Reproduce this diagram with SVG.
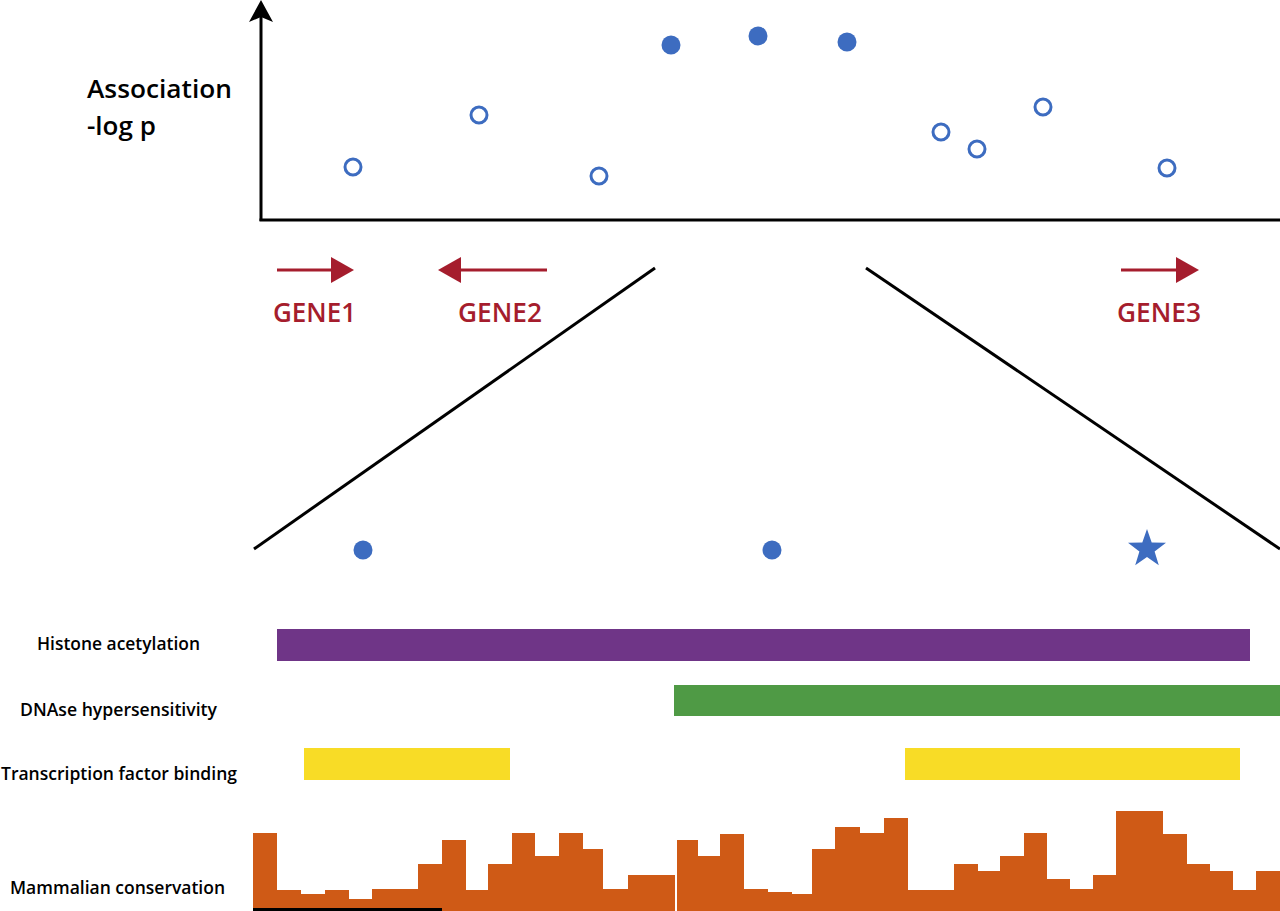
<svg xmlns="http://www.w3.org/2000/svg" width="1280" height="911" viewBox="0 0 1280 911">
<style>
.ax{stroke:#000;stroke-width:3;fill:none}
.oc{fill:none;stroke:#3d6cc0;stroke-width:3}
.fc{fill:#3d6cc0}
.gene{fill:#a51d2d;font-family:"Open Sans","Liberation Sans",sans-serif;font-size:27px;font-weight:600}
.garr{stroke:#a51d2d;stroke-width:3;fill:none}
.ghead{fill:#a51d2d}
.lab{fill:#000;font-family:"Open Sans","Liberation Sans",sans-serif;font-size:18px;font-weight:600}
.ylab{fill:#000;font-family:"Open Sans","Liberation Sans",sans-serif;font-size:26px;font-weight:600}
.cons{fill:#cf5a16}
</style>
<rect width="1280" height="911" fill="#fff"/>
<g id="axes">
<line class="ax" x1="261" y1="15" x2="261" y2="221"/>
<line class="ax" x1="259.5" y1="220" x2="1280" y2="220"/>
<path d="M261 0 L273 22 L261 17 L249 22 Z" fill="#000"/>
</g>
<g id="ylabel">
<text class="ylab" x="87" y="98" textLength="145" lengthAdjust="spacingAndGlyphs">Association</text>
<text class="ylab" x="87" y="135">-log p</text>
</g>
<g id="points">
<circle class="oc" cx="353" cy="167" r="8"/>
<circle class="oc" cx="479" cy="115" r="8"/>
<circle class="oc" cx="599" cy="176" r="8"/>
<circle class="oc" cx="941" cy="132" r="8"/>
<circle class="oc" cx="977" cy="149" r="8"/>
<circle class="oc" cx="1043" cy="107" r="8"/>
<circle class="oc" cx="1167" cy="168" r="8"/>
<circle class="fc" cx="671" cy="45" r="9.5"/>
<circle class="fc" cx="758" cy="36" r="9.5"/>
<circle class="fc" cx="847" cy="42" r="9.5"/>
</g>
<g id="gene1">
<line class="garr" x1="277" y1="270" x2="334" y2="270"/>
<path class="ghead" d="M354 270 L331 257 L331 283 Z"/>
<text class="gene" x="273" y="322" textLength="83" lengthAdjust="spacingAndGlyphs">GENE1</text>
</g>
<g id="gene2">
<line class="garr" x1="547" y1="270" x2="458" y2="270"/>
<path class="ghead" d="M438 270 L461 257 L461 283 Z"/>
<text class="gene" x="458" y="322" textLength="84" lengthAdjust="spacingAndGlyphs">GENE2</text>
</g>
<g id="gene3">
<line class="garr" x1="1121" y1="270" x2="1179" y2="270"/>
<path class="ghead" d="M1199 270 L1176 257 L1176 283 Z"/>
<text class="gene" x="1117" y="322" textLength="84" lengthAdjust="spacingAndGlyphs">GENE3</text>
</g>
<g id="connectors">
<line class="ax" x1="655" y1="268" x2="254" y2="549"/>
<line class="ax" x1="866" y1="268" x2="1280" y2="549"/>
</g>
<g id="variants">
<circle class="fc" cx="363" cy="550" r="9.5"/>
<circle class="fc" cx="772" cy="550" r="9.5"/>
<path class="fc" d="M1147,529 L1151.7,542.5 L1166,542.8 L1154.6,551.5 L1158.8,565.2 L1147,557 L1135.2,565.2 L1139.4,551.5 L1128,542.8 L1142.3,542.5 Z"/>
</g>
<g id="histone">
<text class="lab" x="37" y="650" textLength="163" lengthAdjust="spacingAndGlyphs">Histone acetylation</text>
<rect x="277" y="629" width="973" height="32" fill="#6f3587"/>
</g>
<g id="dnase">
<text class="lab" x="20" y="716" textLength="197" lengthAdjust="spacingAndGlyphs">DNAse hypersensitivity</text>
<rect x="674" y="685" width="606" height="31" fill="#4f9a45"/>
</g>
<g id="tfbinding">
<text class="lab" x="1" y="780" textLength="236" lengthAdjust="spacingAndGlyphs">Transcription factor binding</text>
<rect x="304" y="748" width="206" height="32" fill="#f8dc26"/>
<rect x="905" y="748" width="335" height="32" fill="#f8dc26"/>
</g>
<g id="conservation">
<text class="lab" x="10" y="894" textLength="215" lengthAdjust="spacingAndGlyphs">Mammalian conservation</text>
<path class="cons" d="M253 911 V833 H277 V890 H301 V894 H325 V890 H349 V899 H372 V889 H418 V864 H442 V840 H466 V890 H488 V864 H512 V833 H535 V856 H559 V833 H583 V849 H603 V889 H628 V875 H675 V911 Z"/>
<path class="cons" d="M677 911 V840 H698 V856 H720 V834 H744 V889 H768 V892 H792 V894 H812 V849 H835 V827 H860 V833 H884 V818 H908 V890 H954 V864 H978 V871 H1000 V856 H1024 V833 H1047 V879 H1070 V889 H1093 V875 H1116 V811 H1163 V834 H1187 V864 H1210 V871 H1233 V890 H1256 V871 H1280 V911 Z"/>
<line x1="253" y1="909.5" x2="442" y2="909.5" stroke="#000" stroke-width="3"/>
</g>
</svg>
